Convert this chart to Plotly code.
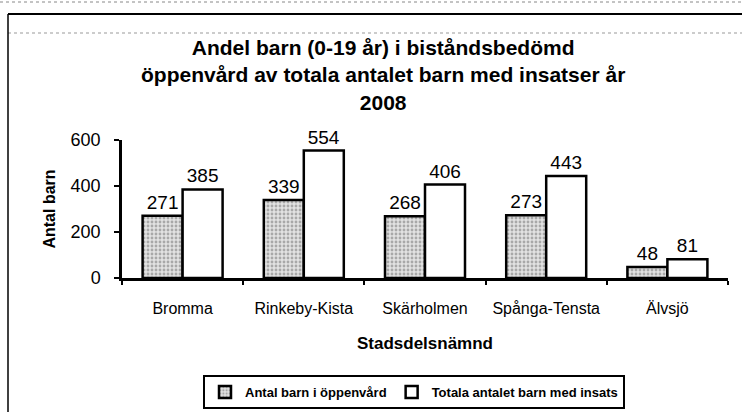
import plotly.graph_objects as go

categories = ["Bromma", "Rinkeby-Kista", "Skärholmen", "Spånga-Tensta", "Älvsjö"]
oppenvard = [271, 339, 268, 273, 48]
totala = [385, 554, 406, 443, 81]
series_names = ["Antal barn i öppenvård", "Totala antalet barn med insats"]
y_ticks = [0, 200, 400, 600]
title_text = ("Andel barn (0-19 år) i biståndsbedömd<br>"
              "öppenvård av totala antalet barn med insatser år<br>2008")

FONT = "Liberation Sans, Arial, sans-serif"

fig = go.Figure()
fig.add_trace(go.Bar(
    x=categories, y=oppenvard, name=series_names[0],
    marker=dict(color="#dcdcdc", line=dict(color="black", width=2.5),
                pattern=dict(shape=".", fgcolor="#6e6e6e", bgcolor="#e2e2e2", size=4, solidity=0.4)),
    text=[str(v) for v in oppenvard], textposition="outside", cliponaxis=False,
    textfont=dict(size=19, color="black", family=FONT),
))
fig.add_trace(go.Bar(
    x=categories, y=totala, name=series_names[1],
    marker=dict(color="white", line=dict(color="black", width=2.5)),
    text=[str(v) for v in totala], textposition="outside", cliponaxis=False,
    textfont=dict(size=19, color="black", family=FONT),
))

# pixel -> paper-coordinate helpers
L, R, T, B = 122, 14, 140, 134
W, H = 742 - L - R, 412 - T - B
def px(p): return (p - L) / W
def py(p): return (412 - B - p) / H

shapes = [
    dict(type="line", xref="paper", yref="paper", x0=px(0), x1=px(742), y0=py(2), y1=py(2),
         line=dict(color="#888", width=1, dash="dot")),
    dict(type="line", xref="paper", yref="paper", x0=px(8), x1=px(742), y0=py(14), y1=py(14),
         line=dict(color="black", width=2)),
    dict(type="line", xref="paper", yref="paper", x0=px(8), x1=px(742), y0=py(33), y1=py(33),
         line=dict(color="#999", width=1, dash="dot")),
    dict(type="line", xref="paper", yref="paper", x0=px(8), x1=px(8), y0=py(14), y1=py(412),
         line=dict(color="black", width=1.5)),
]

annotations = [
    dict(text=f"<b>{title_text}</b>", xref="paper", yref="paper", x=px(383), y=py(34),
         xanchor="center", yanchor="top", showarrow=False, align="center",
         font=dict(size=21, family=FONT, color="black"))
]

fig.update_layout(
    width=742, height=412,
    margin=dict(l=L, r=R, t=T, b=B, autoexpand=False),
    paper_bgcolor="white", plot_bgcolor="white",
    barmode="group", bargap=0.34, bargroupgap=0,
    font=dict(family=FONT, color="black"),
    xaxis=dict(
        showline=True, linecolor="black", linewidth=2.5,
        ticks="outside", tickson="boundaries", ticklen=4, tickcolor="black", tickwidth=2,
        tickfont=dict(size=16, family=FONT), ticklabelstandoff=14,
        title=dict(text="<b>Stadsdelsnämnd</b>", font=dict(size=17, family=FONT), standoff=22),
    ),
    yaxis=dict(
        range=[0, 600], tickvals=y_ticks, showgrid=False, zeroline=False,
        showline=True, linecolor="black", linewidth=2.5,
        ticks="outside", ticklen=5, tickcolor="black", tickwidth=2,
        tickfont=dict(size=18, family=FONT), ticklabelstandoff=10,
        title=dict(text="<b>Antal barn</b>", font=dict(size=16, family=FONT), standoff=12),
    ),
    legend=dict(
        orientation="h", xref="container", yref="container",
        x=203 / 742, xanchor="left", y=1 - 375 / 412, yanchor="top",
        bordercolor="black", borderwidth=2, font=dict(size=13, family=FONT, weight="bold"),
        itemwidth=30, traceorder="normal",
    ),
    shapes=shapes,
    annotations=annotations,
    showlegend=True,
)
fig.write_html("out.html", post_script="document.body.style.margin='0';",
               config={"displayModeBar": False})
